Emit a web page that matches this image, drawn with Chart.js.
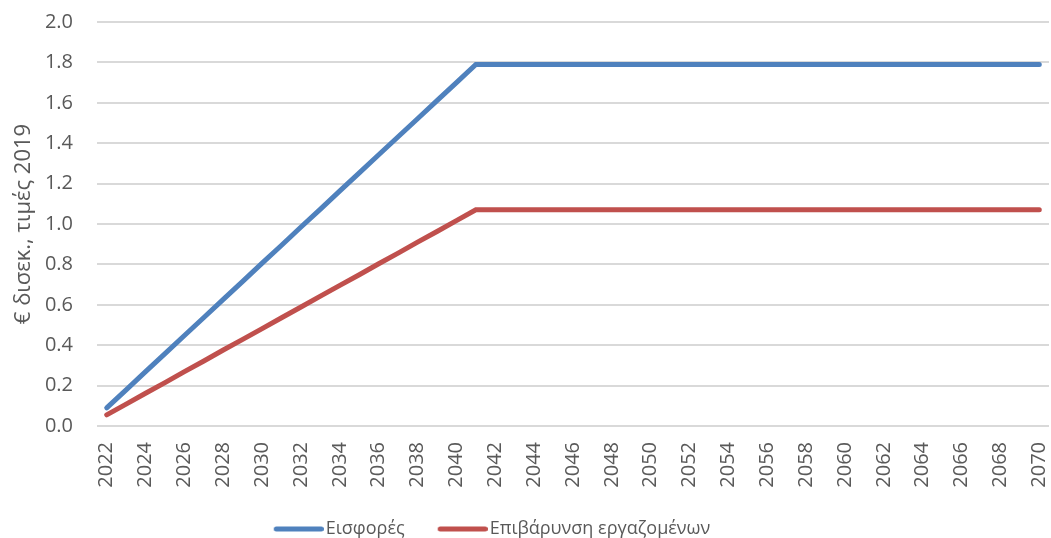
<!DOCTYPE html>
<html>
<head>
<meta charset="utf-8">
<script src="https://cdn.jsdelivr.net/npm/chart.js@4/dist/chart.umd.min.js"></script>
<style>
    html, body { margin: 0; padding: 0; background: #fff; overflow: hidden; }
    #wrap { width: 1051px; height: 548px; position: relative; }
</style>
</head>
<body>
<div id="wrap"><canvas id="chart"></canvas></div>
<script>
// --- Data ---
const years = [];
for (let y = 2022; y <= 2070; y++) years.push(String(y));

const contributions = [
    0.090, 0.179, 0.269, 0.358, 0.448, 0.537, 0.627, 0.716, 0.806, 0.895,
    0.985, 1.074, 1.164, 1.253, 1.343, 1.432, 1.521, 1.611, 1.700, 1.790,
    1.79, 1.79, 1.79, 1.79, 1.79, 1.79, 1.79, 1.79, 1.79, 1.79,
    1.79, 1.79, 1.79, 1.79, 1.79, 1.79, 1.79, 1.79, 1.79, 1.79,
    1.79, 1.79, 1.79, 1.79, 1.79, 1.79, 1.79, 1.79, 1.79
];
const workerBurden = [
    0.055, 0.108, 0.162, 0.215, 0.269, 0.322, 0.376, 0.429, 0.482, 0.536,
    0.589, 0.643, 0.696, 0.749, 0.803, 0.856, 0.910, 0.963, 1.017, 1.070,
    1.07, 1.07, 1.07, 1.07, 1.07, 1.07, 1.07, 1.07, 1.07, 1.07,
    1.07, 1.07, 1.07, 1.07, 1.07, 1.07, 1.07, 1.07, 1.07, 1.07,
    1.07, 1.07, 1.07, 1.07, 1.07, 1.07, 1.07, 1.07, 1.07
];
const seriesNames = ['Εισφορές', 'Επιβάρυνση εργαζομένων'];
const seriesColors = ['#4f81bd', '#c0504d'];
const yTitle = '€ δισεκ., τιμές 2019';

const FONT = '"Open Sans", "DejaVu Sans", sans-serif';
const TEXT = '#595959';

// Legend swatch: a short thick rounded line, drawn a little right of its box
// so it sits close to the label text
const makeSwatch = (color) => {
    const c = document.createElement('canvas');
    c.width = 64;
    c.height = 6;
    const g = c.getContext('2d');
    g.strokeStyle = color;
    g.lineWidth = 5;
    g.lineCap = 'round';
    g.beginPath();
    g.moveTo(16.5, 3);
    g.lineTo(61.5, 3);
    g.stroke();
    return c;
};
const swatches = seriesColors.map(makeSwatch);

// Nudge the legend block left of the canvas centre
const legendShift = {
    id: 'legendShift',
    afterLayout(chart) {
        if (chart.legend) chart.legend.right -= 72;
    }
};

new Chart(document.getElementById('chart'), {
    type: 'line',
    data: {
        labels: years,
        datasets: [
            {
                label: seriesNames[0],
                data: contributions,
                borderColor: seriesColors[0],
                backgroundColor: seriesColors[0],
                borderWidth: 5,
                borderCapStyle: 'round',
                pointRadius: 0,
                tension: 0
            },
            {
                label: seriesNames[1],
                data: workerBurden,
                borderColor: seriesColors[1],
                backgroundColor: seriesColors[1],
                borderWidth: 5,
                borderCapStyle: 'round',
                pointRadius: 0,
                tension: 0
            }
        ]
    },
    plugins: [legendShift],
    options: {
        responsive: true,
        maintainAspectRatio: false,
        animation: false,
        layout: { padding: { top: 22, right: 2, left: 0, bottom: 0 } },
        plugins: {
            tooltip: { enabled: false },
            legend: {
                position: 'bottom',
                labels: {
                    font: { family: FONT, size: 18 },
                    color: TEXT,
                    usePointStyle: true,
                    pointStyleWidth: 50,
                    boxHeight: 5,
                    padding: 26,
                    generateLabels: (chart) => {
                        const items = Chart.defaults.plugins.legend.labels.generateLabels(chart);
                        items.forEach((it, i) => { it.pointStyle = swatches[i]; it.lineWidth = 0; });
                        return items;
                    }
                }
            }
        },
        scales: {
            x: {
                offset: true,
                afterFit: (scale) => {
                    scale.paddingLeft = 0;
                    scale.paddingRight = 0;
                    scale.height = 68;
                },
                grid: { display: false, drawTicks: false },
                border: { display: false },
                ticks: {
                    autoSkip: false,
                    maxRotation: 90,
                    minRotation: 90,
                    padding: 16,
                    color: TEXT,
                    font: { family: FONT, size: 20 },
                    callback: function(value, index) {
                        return index % 2 === 0 ? this.getLabelForValue(value) : '';
                    }
                }
            },
            y: {
                min: 0,
                max: 2.0,
                afterFit: (scale) => {
                    scale.width = 97;
                    scale.paddingTop = 0;
                    scale.paddingBottom = 0;
                },
                grid: { color: '#d9d9d9', lineWidth: 2, drawTicks: false },
                border: { display: false },
                ticks: {
                    stepSize: 0.2,
                    padding: 24,
                    color: TEXT,
                    font: { family: FONT, size: 20 },
                    callback: (v) => v.toFixed(1)
                },
                title: {
                    display: true,
                    text: yTitle,
                    color: TEXT,
                    font: { family: FONT, size: 22 },
                    padding: { top: 11, bottom: 0 }
                }
            }
        }
    }
});
</script>
</body>
</html>
